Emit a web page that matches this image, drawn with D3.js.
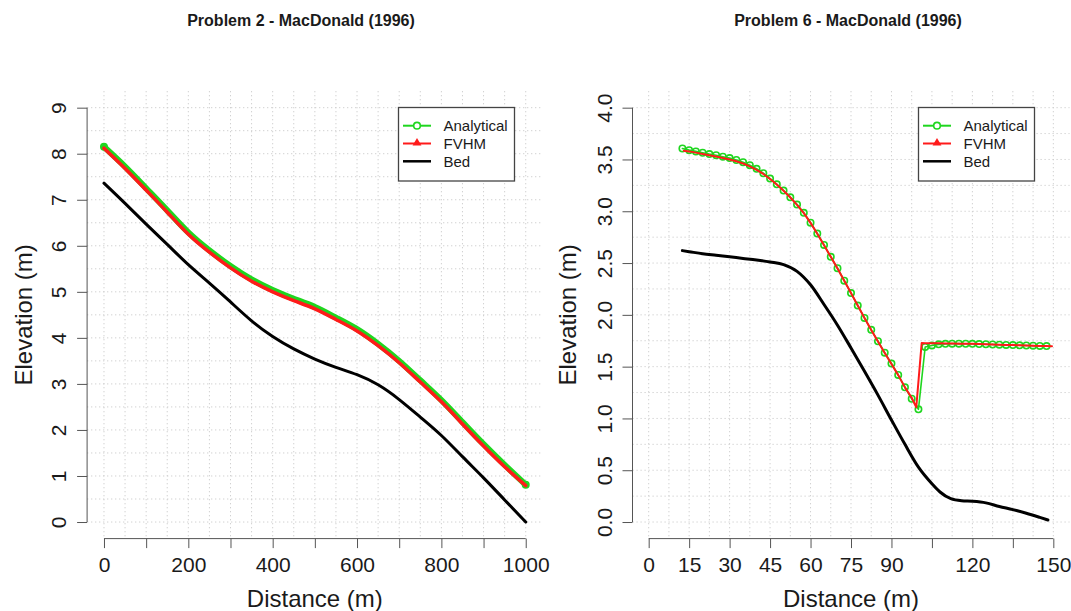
<!DOCTYPE html>
<html>
<head>
<meta charset="utf-8">
<script src="https://cdn.jsdelivr.net/npm/d3@7"></script>
<style>
  body { margin: 0; background: #fff; }
  text { font-family: "Liberation Sans", Arial, Helvetica, sans-serif; fill: #1a1a1a; }
</style>
</head>
<body>
<div id="chart"></div>
<script>
// Problem 2 (left panel)
const leftX = [0, 50, 100, 150, 200, 250, 300, 350, 400, 450, 500, 550, 600, 650, 700, 750, 800, 850, 900, 950, 1000];
const leftAnalytical = [8.15, 7.72, 7.25, 6.77, 6.29, 5.90, 5.56, 5.27, 5.04, 4.85, 4.67, 4.44, 4.19, 3.87, 3.50, 3.08, 2.65, 2.17, 1.69, 1.24, 0.81];
const leftFVHM = [8.12, 7.68, 7.21, 6.73, 6.25, 5.86, 5.52, 5.23, 5.00, 4.81, 4.63, 4.40, 4.15, 3.83, 3.46, 3.04, 2.61, 2.13, 1.65, 1.20, 0.79];
const leftBed = [7.36, 6.92, 6.47, 6.03, 5.59, 5.19, 4.78, 4.37, 4.03, 3.76, 3.54, 3.36, 3.20, 2.98, 2.66, 2.28, 1.88, 1.42, 0.96, 0.48, 0.00];
const leftXTicks = [0, 200, 400, 600, 800, 1000];
const leftXMinor = [100, 300, 500, 700, 900];
const leftYTicks = [0, 1, 2, 3, 4, 5, 6, 7, 8, 9];

// Problem 6 (right panel)
const rightAnaX = [12.5, 15, 17.5, 20, 22.5, 25, 27.5, 30, 32.5, 35, 37.5, 40, 42.5, 45, 47.5, 50, 52.5, 55, 57.5, 60,
  62.5, 65, 67.5, 70, 72.5, 75, 77.5, 80, 82.5, 85, 87.5, 90, 92.5, 95, 97.5, 100,
  102.5, 105, 107.5, 110, 112.5, 115, 117.5, 120, 122.5, 125, 127.5, 130, 132.5, 135, 137.5, 140, 142.5, 145, 147.5];
const rightAnalytical = [3.606, 3.590, 3.578, 3.565, 3.552, 3.541, 3.527, 3.513, 3.495, 3.473, 3.445, 3.410, 3.367, 3.316, 3.260, 3.200, 3.135, 3.065, 2.985, 2.890,
  2.785, 2.675, 2.560, 2.450, 2.330, 2.210, 2.090, 1.970, 1.855, 1.745, 1.635, 1.530, 1.420, 1.300, 1.190, 1.088,
  1.690, 1.705, 1.715, 1.720, 1.722, 1.722, 1.721, 1.720, 1.718, 1.716, 1.714, 1.712, 1.710, 1.708, 1.706, 1.704, 1.702, 1.700, 1.699];
const rightFvX = [13, 15, 17.5, 20, 22.5, 25, 27.5, 30, 32.5, 35, 37.5, 40, 42.5, 45, 47.5, 50, 52.5, 55, 57.5, 60,
  62.5, 65, 67.5, 70, 72.5, 75, 77.5, 80, 82.5, 85, 87.5, 90, 92.5, 95, 97.5, 99.2, 101.2,
  102.5, 105, 107.5, 110, 112.5, 115, 117.5, 120, 122.5, 125, 127.5, 130, 132.5, 135, 137.5, 140, 142.5, 145, 147.5, 149.5];
const rightFVHM = [3.585, 3.578, 3.566, 3.553, 3.540, 3.528, 3.515, 3.500, 3.483, 3.461, 3.434, 3.400, 3.360, 3.312, 3.258, 3.198, 3.133, 3.062, 2.982, 2.888,
  2.783, 2.673, 2.560, 2.448, 2.330, 2.210, 2.090, 1.970, 1.853, 1.742, 1.632, 1.525, 1.418, 1.300, 1.200, 1.107, 1.728,
  1.727, 1.726, 1.725, 1.724, 1.723, 1.722, 1.721, 1.720, 1.718, 1.716, 1.714, 1.712, 1.710, 1.708, 1.706, 1.704, 1.702, 1.700, 1.699, 1.698];
const rightBedX = [12.5, 15, 20, 25, 30, 35, 40, 45, 50, 55, 60, 65, 70, 75, 80, 85, 90, 95, 100, 105, 108, 112, 116, 120, 125, 130, 135, 140, 145, 148];
const rightBed = [2.62, 2.61, 2.59, 2.575, 2.56, 2.545, 2.53, 2.51, 2.485, 2.42, 2.29, 2.10, 1.90, 1.68, 1.455, 1.225, 0.985, 0.75, 0.53, 0.37, 0.29, 0.225, 0.205, 0.20, 0.185, 0.15, 0.12, 0.085, 0.045, 0.02];
const rightXTicks = [0, 15, 30, 45, 60, 75, 90, 105, 120, 135, 150];
const rightXHidden = [105, 135];
const rightYTicks = [0, 0.5, 1, 1.5, 2, 2.5, 3, 3.5, 4];

const legendItems = ["Analytical", "FVHM", "Bed"];
const GREEN = "#1fd61f", RED = "#ff1a1a", AXIS = "#555";

const svg = d3.select("#chart").append("svg")
  .attr("width", 1071)
  .attr("height", 611);

function drawPanel(p) {
  const g = svg.append("g");
  const x = p.x, y = p.y;
  const [x0, x1] = x.range(), [y0, y1] = y.range();

  // dotted grid over the plot region
  const grid = g.append("g")
    .attr("stroke", "#cccccc")
    .attr("stroke-width", 1)
    .attr("stroke-dasharray", "1.2,2.8");
  grid.selectAll(".gv").data(p.gridX).enter().append("line")
    .attr("x1", d => x(d)).attr("x2", d => x(d))
    .attr("y1", y1).attr("y2", y0);
  grid.selectAll(".gh").data(p.gridY).enter().append("line")
    .attr("y1", d => y(d)).attr("y2", d => y(d))
    .attr("x1", x0).attr("x2", x1);

  // x axis
  const xAxis = g.append("g")
    .attr("transform", `translate(0,${y0})`)
    .call(d3.axisBottom(x).tickValues(p.xTicks).tickSize(9.5).tickFormat(p.xFormat));
  xAxis.select(".domain").remove();
  xAxis.append("line")
    .attr("x1", x(p.xTicks[0])).attr("x2", x(p.xTicks[p.xTicks.length - 1]))
    .attr("stroke", AXIS);
  xAxis.selectAll(".tick line").attr("stroke", AXIS);
  xAxis.selectAll(".tick text")
    .attr("y", 33).attr("dy", null)
    .style("font-size", "21px");

  // y axis
  const yAxis = g.append("g")
    .attr("transform", `translate(${x0},0)`)
    .call(d3.axisLeft(y).tickValues(p.yTicks).tickSize(10).tickFormat(p.yFormat));
  yAxis.select(".domain").remove();
  yAxis.append("line")
    .attr("y1", y(p.yTicks[0])).attr("y2", y(p.yTicks[p.yTicks.length - 1]))
    .attr("stroke", AXIS);
  yAxis.selectAll(".tick line").attr("stroke", AXIS);
  yAxis.selectAll(".tick text")
    .attr("x", null).attr("dy", null)
    .attr("text-anchor", "middle")
    .attr("transform", "translate(-21,0) rotate(-90)")
    .style("font-size", "21px");

  const curve = p.smooth ? d3.curveNatural : d3.curveLinear;

  // bed
  g.append("path")
    .datum(d3.zip(p.bedX, p.bed))
    .attr("fill", "none").attr("stroke", "#000").attr("stroke-width", 3)
    .attr("stroke-linejoin", "round").attr("stroke-linecap", "round")
    .attr("d", d3.line().x(d => x(d[0])).y(d => y(d[1])).curve(p.smooth ? d3.curveNatural : d3.curveMonotoneX));

  // analytical
  const ana = d3.zip(p.anaX, p.ana);
  g.append("path")
    .datum(ana)
    .attr("fill", "none").attr("stroke", GREEN).attr("stroke-width", p.anaWidth)
    .attr("stroke-linejoin", "round").attr("stroke-linecap", "round")
    .attr("d", d3.line().x(d => x(d[0])).y(d => y(d[1])).curve(curve));
  g.selectAll(".ana").data(p.markers ? ana : [ana[0], ana[ana.length - 1]]).enter().append("circle")
    .attr("cx", d => x(d[0])).attr("cy", d => y(d[1]))
    .attr("r", 3.2)
    .attr("fill", "none").attr("stroke", GREEN).attr("stroke-width", 1.6);

  // FVHM
  g.append("path")
    .datum(d3.zip(p.fvX, p.fv))
    .attr("fill", "none").attr("stroke", RED).attr("stroke-width", p.fvWidth)
    .attr("stroke-linejoin", "round").attr("stroke-linecap", "round")
    .attr("d", d3.line().x(d => x(d[0])).y(d => y(d[1])).curve(curve));

  // titles
  g.append("text")
    .attr("x", p.titleX).attr("y", 26)
    .attr("text-anchor", "middle")
    .style("font-size", "16px").style("font-weight", "bold")
    .text(p.title);
  g.append("text")
    .attr("x", (x(p.xTicks[0]) + x(p.xTicks[p.xTicks.length - 1])) / 2).attr("y", 607)
    .attr("text-anchor", "middle")
    .style("font-size", "24px")
    .text("Distance (m)");
  g.append("text")
    .attr("transform", `translate(${p.yLabelX},${(y0 + y1) / 2}) rotate(-90)`)
    .attr("text-anchor", "middle")
    .style("font-size", "24px")
    .text("Elevation (m)");

  // legend
  const lg = g.append("g").attr("transform", `translate(${p.legendX},107.5)`);
  lg.append("rect")
    .attr("width", 116).attr("height", 73.5)
    .attr("fill", "#fff").attr("stroke", "#444").attr("stroke-width", 1.3);
  const rows = lg.selectAll(".row").data(legendItems).enter().append("g")
    .attr("transform", (d, i) => `translate(0,${18.2 + i * 17.8})`);
  rows.append("line")
    .attr("x1", 4.5).attr("x2", 32.5)
    .attr("stroke", (d, i) => [GREEN, RED, "#000"][i])
    .attr("stroke-width", (d, i) => i === 2 ? 2.5 : 2);
  rows.filter((d, i) => i === 0).append("circle")
    .attr("cx", 18.5).attr("r", 3.3)
    .attr("fill", "#fff").attr("stroke", GREEN).attr("stroke-width", 1.6);
  rows.filter((d, i) => i === 1).append("path")
    .attr("transform", "translate(18.5,-0.5)")
    .attr("d", d3.symbol(d3.symbolTriangle, 34))
    .attr("fill", RED);
  rows.append("text")
    .attr("x", 45).attr("dy", "0.35em")
    .style("font-size", "15px")
    .text(d => d);
}

drawPanel({
  x: d3.scaleLinear().domain([-40, 1040]).range([87.1, 542.6]),
  y: d3.scaleLinear().domain([-0.36, 9.36]).range([538.6, 91.1]),
  gridX: d3.range(0, 1001, 50),
  gridY: d3.range(0, 9.01, 0.5),
  xTicks: leftXTicks.concat(leftXMinor).sort((a, b) => a - b),
  xFormat: d => leftXMinor.includes(d) ? "" : d,
  yTicks: leftYTicks,
  yFormat: d => d,
  anaX: leftX, ana: leftAnalytical,
  fvX: leftX, fv: leftFVHM,
  bedX: leftX, bed: leftBed,
  anaWidth: 6, fvWidth: 3.5, smooth: true, markers: false,
  title: "Problem 2 - MacDonald (1996)", titleX: 301,
  yLabelX: 32, legendX: 398.5
});

drawPanel({
  x: d3.scaleLinear().domain([-6, 156]).range([632.5, 1069.5]),
  y: d3.scaleLinear().domain([-0.16, 4.16]).range([538.6, 91.1]),
  gridX: d3.range(0, 150.01, 7.5),
  gridY: d3.range(0, 4.01, 0.25),
  xTicks: rightXTicks,
  xFormat: d => rightXHidden.includes(d) ? "" : d,
  yTicks: rightYTicks,
  yFormat: d3.format(".1f"),
  anaX: rightAnaX, ana: rightAnalytical,
  fvX: rightFvX, fv: rightFVHM,
  bedX: rightBedX, bed: rightBed,
  anaWidth: 1.6, fvWidth: 2, smooth: false, markers: true,
  title: "Problem 6 - MacDonald (1996)", titleX: 848,
  yLabelX: 576, legendX: 918.5
});
</script>
</body>
</html>
